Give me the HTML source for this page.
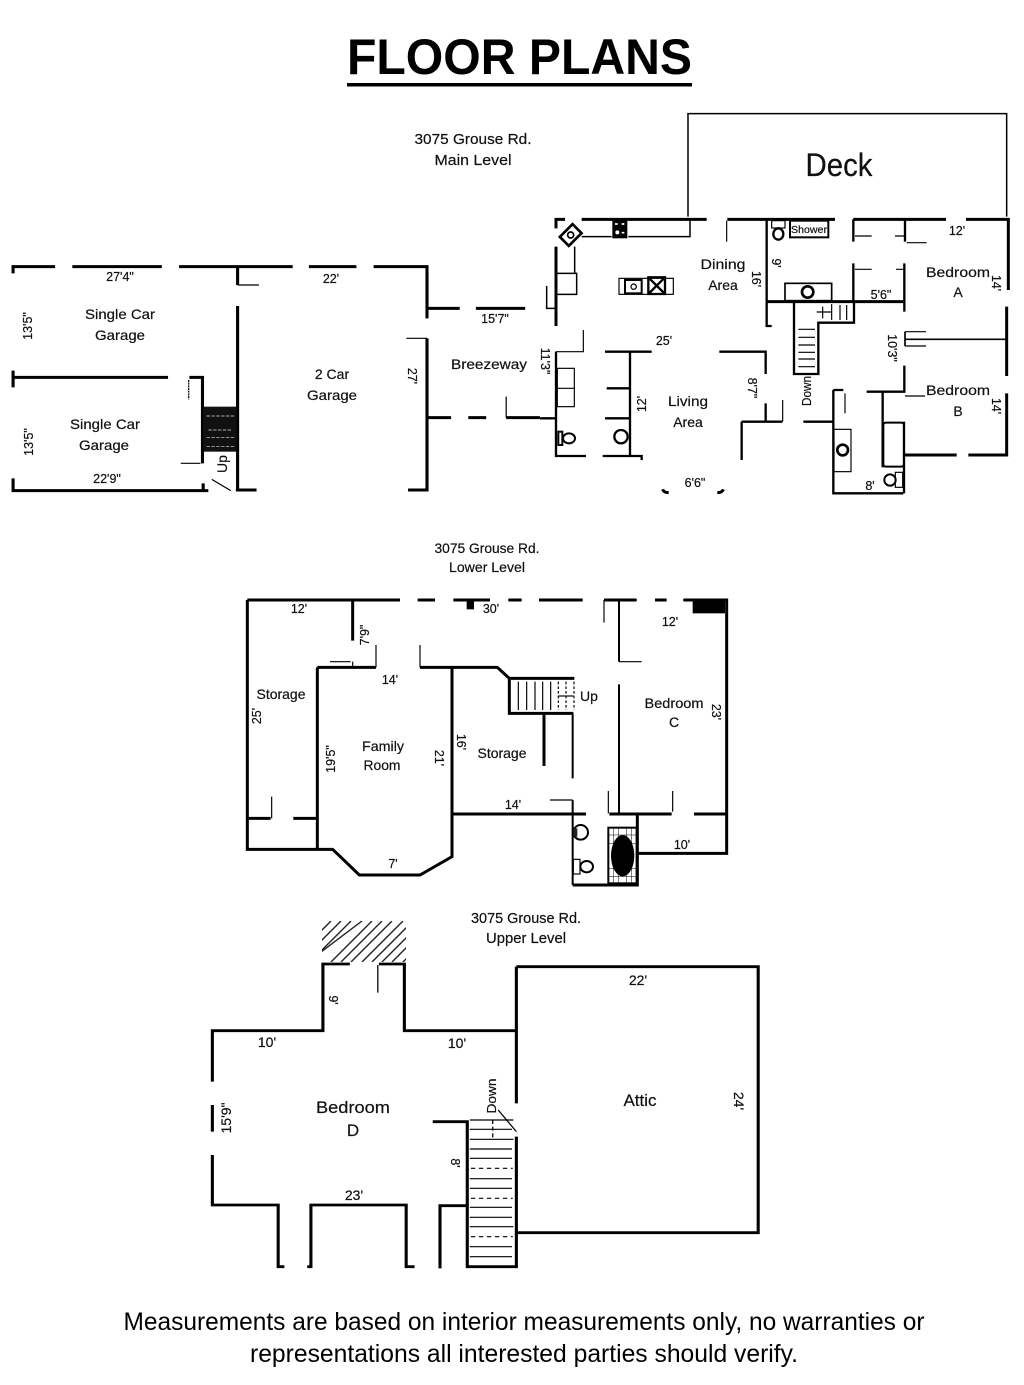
<!DOCTYPE html>
<html>
<head>
<meta charset="utf-8">
<title>Floor Plans</title>
<style>
html,body{margin:0;padding:0;background:#fff;}
svg{display:block;}
text{font-family:"Liberation Sans",sans-serif;fill:#111;stroke:#111;stroke-width:.2px;}
.w{fill:none;stroke:#000;stroke-width:9;stroke-linejoin:miter;}
.t{fill:none;stroke:#000;stroke-width:3.5;}
.k{fill:#000;stroke:none;}
.r{font-size:14px;}
.d{font-size:12.5px;}
.m{text-anchor:middle;}
</style>
</head>
<body>
<svg width="1024" height="1385" viewBox="0 0 1024 1385" xmlns="http://www.w3.org/2000/svg">
<rect width="1024" height="1385" fill="#fff"/>
<defs><clipPath id="hc"><rect x="322" y="921" width="84" height="41"/></clipPath></defs>

<!-- Title -->
<text x="519.5" y="74" class="m" font-size="50" font-weight="bold" style="fill:#000;stroke:none" textLength="345" lengthAdjust="spacingAndGlyphs">FLOOR PLANS</text>
<rect x="347" y="83" width="345" height="3.5" fill="#000"/>

<!-- MAIN LEVEL right (zoom1 coordinates) -->
<g transform="translate(540,100) scale(.33333)">
  <path class="t" style="stroke-width:4.5" d="M444,350V41H1400V350"/>
  <path class="w" d="M125,358H500M562,358H885M940,358H1218M1278,358H1405V570M1400,620V828M1400,880V1065H1285M1250,1065H1095"/>
  <path class="w" d="M75,358H48V385M48,440V678"/>
  <path class="t" style="stroke-width:4.5" d="M125,410H215M265,410H450V358M104,440V520M52,520H110V583H52M20,558V625H48"/>
  <rect x="217" y="360" width="45" height="55" fill="#000"/>
  <path d="M225,372h8M245,372h8M225,398h6M245,398h8" stroke="#fff" stroke-width="5"/>
  <circle cx="232" cy="397" r="8" fill="#fff" stroke="#000" stroke-width="4"/>
  <g transform="rotate(-45 92 405)"><rect x="65" y="386" width="54" height="38" fill="#fff" stroke="#000" stroke-width="8"/><circle cx="92" cy="405" r="9" fill="none" stroke="#000" stroke-width="5"/></g>
  <rect x="237" y="535" width="163" height="48" class="t"/>
  <rect x="255" y="540" width="50" height="40" fill="none" stroke="#000" stroke-width="6"/>
  <circle cx="281" cy="560" r="8" class="t"/>
  <path d="M325,532h50v50h-50zM325,532l50,50M375,532l-50,50" fill="none" stroke="#000" stroke-width="7"/>
  <path class="t" d="M560,362V425M945,408H995M1065,408H1095M945,508H995M1068,508H1095M1100,428H1160"/>
  <path class="w" style="stroke-width:7" d="M680,358V678H695M940,358V425M1095,362V425M940,490V605M1093,490V635"/>
  <path class="w" d="M680,605H1090"/>
  <ellipse cx="715" cy="402" rx="15" ry="17" fill="none" stroke="#000" stroke-width="7"/>
  <rect x="695" y="362" width="40" height="22" class="t"/>
  <rect x="750" y="362" width="115" height="50" fill="none" stroke="#000" stroke-width="6"/>
  <rect x="735" y="550" width="140" height="52" fill="none" stroke="#000" stroke-width="5"/>
  <circle cx="803" cy="576" r="17" fill="none" stroke="#000" stroke-width="8"/>
  <path class="w" style="stroke-width:7" d="M762,605V822H835V668H942V605"/>
  <path class="t" d="M775,688H825M775,712H825M775,735H825M775,757H825M775,777H825M775,800H825M900,615V660M920,615V660M875,612V660M848,620V655M830,636H875"/>
  <path class="t" d="M1095,695H1158M1095,738H1158"/>
  <path class="w" style="stroke-width:5" d="M1095,718H1400M1095,695V738"/>
  <path class="w" style="stroke-width:7" d="M1093,797V875H980M1028,875V1102M880,870V1180H1090M880,870H910M1092,965V1180M790,965H880"/>
  <path class="t" d="M1095,888H1155M915,880V940"/>
  <rect x="1030" y="968" width="62" height="132" fill="none" stroke="#000" stroke-width="6" rx="8"/>
  <rect x="882" y="988" width="51" height="127" class="t"/>
  <circle cx="908" cy="1050" r="16" fill="none" stroke="#000" stroke-width="8"/>
  <ellipse cx="1050" cy="1140" rx="17" ry="17" fill="none" stroke="#000" stroke-width="6"/>
  <rect x="1066" y="1117" width="22" height="45" class="t"/>
  <path class="t" d="M48,755H130V690"/>
  <path class="w" style="stroke-width:7" d="M195,755H335M270,755V1065M200,865H270M195,955H270M188,1068H305V1080M48,755V1068H138M0,955H48"/>
  <rect x="52" y="805" width="51" height="115" class="t"/>
  <path class="t" d="M52,865H103"/>
  <rect x="55" y="995" width="12" height="40" fill="none" stroke="#000" stroke-width="6"/>
  <ellipse cx="87" cy="1015" rx="18" ry="15" fill="none" stroke="#000" stroke-width="6"/>
  <circle cx="243" cy="1010" r="20" fill="none" stroke="#000" stroke-width="7"/>
  <path class="w" style="stroke-width:7" d="M538,755H677V822M677,910V965M605,965H727M605,965V1080"/>
  <path class="t" d="M728,900V965"/>
  <path class="w" d="M368,1168q3,10 18,10M550,1168q-3,10 -18,10"/>
</g>

<!-- MAIN LEVEL left (zoom2 coordinates) -->
<g transform="translate(0,250) scale(.34435,.33333)">
  <path class="w" d="M38,70V50H160M210,50H470M520,50H850M897,50H1035M1085,50H1240V205M690,50V105M690,168V720M1240,175H1335M1382,175H1525"/>
  <path class="t" d="M690,105H752M1180,265H1240M525,640H582M615,688L670,722M1470,440V503"/>
  <path class="w" d="M38,382H488M38,362V412M550,382H588V640M38,685V722H605M590,700V720M685,720H745M1240,265V720H1185M1240,503H1310M1360,503H1412M1470,503H1568"/>
  <path class="t" style="stroke-dasharray:6 2" d="M548,390V448"/>
  <rect x="590" y="470" width="96" height="135" fill="#111"/>
  <path d="M600,498H680M605,540H675M600,562H680M600,590H680" stroke="#ddd" stroke-width="2" stroke-dasharray="10 4" fill="none"/>
</g>

<!-- LOWER LEVEL (zoom3 coordinates) -->
<g transform="translate(240,590) scale(.33333)">
  <path class="w" d="M22,30H480M533,30H585M640,30H750M805,30H845M897,30H1028M1092,30H1190M1245,30H1280M1330,30H1460V790H1195"/>
  <path class="w" d="M22,30V778H278L358,855H540L636,800V235M338,30V152M232,232V778M232,232H408M540,232H772L808,265H1003M808,265V370H1000M912,370V528"/>
  <path class="w" style="stroke-width:6" d="M998,370V565M998,630V885M1137,30V215M1137,283V672"/>
  <path class="w" d="M636,672H1038M1108,672H1295M1362,672H1460M1192,672V885H998M22,685H92M160,685H232"/>
  <path class="t" d="M408,232V165M540,232V165M270,215H332M338,215V232M930,630H998M1105,603V670M1298,603V665M1137,215H1205M1092,30V98M95,620V685"/>
  <rect x="1358" y="30" width="97" height="40" fill="#000"/>
  <rect x="680" y="30" width="22" height="28" fill="#000"/>
  <path class="t" d="M835,275V360M860,275V360M885,275V360M908,275V360M932,275V360"/>
  <path class="t" style="stroke-dasharray:8 6" d="M955,275V360M978,275V360M1002,275V360"/>
  <path class="t" d="M955,318H1000"/>
  <rect x="1105" y="713" width="85" height="167" fill="none" stroke="#000" stroke-width="6"/>
  <path stroke="#000" stroke-width="1.5" fill="none" d="M1120,713V880M1135,713V880M1160,713V880M1175,713V880M1105,735H1190M1105,760H1190M1105,835H1190M1105,860H1190"/>
  <ellipse cx="1148" cy="797" rx="35" ry="62" fill="#000"/>
  <circle cx="1022" cy="727" r="22" fill="none" stroke="#000" stroke-width="6"/>
  <rect x="1000" y="715" width="12" height="25" fill="#222"/>
  <rect x="1000" y="808" width="20" height="44" class="t"/>
  <ellipse cx="1040" cy="830" rx="19" ry="17" fill="none" stroke="#000" stroke-width="6"/>
</g>

<!-- Chimney hatch (native coordinates) -->
<g clip-path="url(#hc)" stroke="#222" stroke-width="1.4" fill="none">
  <path d="M310,942L331,921M320,952L351,921M331,962L372,921M341,962L382,921M351,962L392,921M362,962L403,921M372,962L413,921M382,962L423,921M392,962L433,921M403,962L444,921M321,941L341,921M321,952L362,921"/>
</g>

<!-- UPPER LEVEL (zoom4 coordinates) -->
<g transform="translate(200,910) scale(.36364,.33333)">
  <path class="w" style="stroke-width:8.5" d="M34,515V362H338V162H412M492,162H562V362H870M870,170H1535V968H870M870,170V580M34,585V665M34,735V885H215V1070H232M295,1070H305V885H567V1070H590M640,635H735V1070H870V680M660,1075V887H735"/>
  <path class="t" d="M489,165V248M820,600L870,665"/>
  <path class="t" d="M742,630H862M742,658H858M742,688H862M742,717H858M742,745H858M742,806H858M742,835H858M742,892H858M742,922H858M742,950H862M742,1010H858M742,1040H858"/>
  <path class="t" style="stroke-dasharray:12 10" d="M745,775H860M745,865H860M745,980H860"/>
  <path class="t" style="stroke-dasharray:12 8" d="M805,630V690"/>
</g>

<!-- Main level text -->
<text x="473" y="144" class="m" font-size="15" textLength="117" lengthAdjust="spacingAndGlyphs">3075 Grouse Rd.</text>
<text x="473" y="165" class="m" font-size="15" textLength="77" lengthAdjust="spacingAndGlyphs">Main Level</text>
<text x="839" y="176" class="m" font-size="32" textLength="67" lengthAdjust="spacingAndGlyphs">Deck</text>
<text x="120" y="281" class="m d">27'4"</text>
<text x="331" y="283" class="m d">22'</text>
<text x="120" y="319" class="m r" textLength="70" lengthAdjust="spacingAndGlyphs">Single Car</text>
<text x="120" y="340" class="m r" textLength="50" lengthAdjust="spacingAndGlyphs">Garage</text>
<text transform="translate(32,326) rotate(-90)" class="m d">13'5"</text>
<text x="105" y="429" class="m r" textLength="70" lengthAdjust="spacingAndGlyphs">Single Car</text>
<text x="104" y="450" class="m r" textLength="50" lengthAdjust="spacingAndGlyphs">Garage</text>
<text transform="translate(33,442) rotate(-90)" class="m d">13'5"</text>
<text x="107" y="483" class="m d">22'9"</text>
<text transform="translate(227,464) rotate(-90)" class="m r">Up</text>
<text x="332" y="379" class="m r">2 Car</text>
<text x="332" y="400" class="m r" textLength="50" lengthAdjust="spacingAndGlyphs">Garage</text>
<text transform="translate(408,376) rotate(90)" class="m d">27'</text>
<text x="495" y="323" class="m d">15'7"</text>
<text x="489" y="369" class="m r" textLength="76" lengthAdjust="spacingAndGlyphs">Breezeway</text>
<text transform="translate(541,361) rotate(90)" class="m d">11'3"</text>
<text x="723" y="269" class="m r" textLength="45" lengthAdjust="spacingAndGlyphs">Dining</text>
<text x="723" y="290" class="m r">Area</text>
<text transform="translate(752,279) rotate(90)" class="m d">16'</text>
<text transform="translate(772,263) rotate(90)" class="m d">9'</text>
<text x="809" y="233" class="m" font-size="10" textLength="36" lengthAdjust="spacingAndGlyphs">Shower</text>
<text x="957" y="235" class="m d">12'</text>
<text x="958" y="277" class="m r" textLength="64" lengthAdjust="spacingAndGlyphs">Bedroom</text>
<text x="958" y="297" class="m r">A</text>
<text transform="translate(992,283) rotate(90)" class="m d">14'</text>
<text x="881" y="299" class="m d">5'6"</text>
<text x="664" y="345" class="m d">25'</text>
<text transform="translate(888,348) rotate(90)" class="m d">10'3"</text>
<text transform="translate(748,388) rotate(90)" class="m d">8'7"</text>
<text transform="translate(811,391) rotate(-90)" class="m d" textLength="30" lengthAdjust="spacingAndGlyphs">Down</text>
<text transform="translate(646,404) rotate(-90)" class="m d">12'</text>
<text x="688" y="406" class="m r" textLength="40" lengthAdjust="spacingAndGlyphs">Living</text>
<text x="688" y="427" class="m r">Area</text>
<text x="958" y="395" class="m r" textLength="64" lengthAdjust="spacingAndGlyphs">Bedroom</text>
<text x="958" y="416" class="m r">B</text>
<text transform="translate(992,406) rotate(90)" class="m d">14'</text>
<text x="695" y="487" class="m d">6'6"</text>
<text x="870" y="490" class="m d">8'</text>

<!-- Lower level text -->
<text x="487" y="553" class="m" font-size="14" textLength="105" lengthAdjust="spacingAndGlyphs">3075 Grouse Rd.</text>
<text x="487" y="572" class="m" font-size="14" textLength="76" lengthAdjust="spacingAndGlyphs">Lower Level</text>
<text x="299" y="613" class="m d">12'</text>
<text x="491" y="613" class="m d">30'</text>
<text transform="translate(369,635) rotate(-90)" class="m d">7'9"</text>
<text x="670" y="626" class="m d">12'</text>
<text x="390" y="684" class="m d">14'</text>
<text x="281" y="699" class="m r" textLength="49" lengthAdjust="spacingAndGlyphs">Storage</text>
<text transform="translate(261,716) rotate(-90)" class="m d">25'</text>
<text x="589" y="701" class="m r">Up</text>
<text x="674" y="708" class="m r" textLength="59" lengthAdjust="spacingAndGlyphs">Bedroom</text>
<text x="674" y="727" class="m r">C</text>
<text transform="translate(712,712) rotate(90)" class="m d">23'</text>
<text x="383" y="751" class="m r" textLength="42" lengthAdjust="spacingAndGlyphs">Family</text>
<text x="382" y="770" class="m r" textLength="37" lengthAdjust="spacingAndGlyphs">Room</text>
<text transform="translate(335,759) rotate(-90)" class="m d">19'5"</text>
<text transform="translate(435,758) rotate(90)" class="m d">21'</text>
<text transform="translate(457,742) rotate(90)" class="m d">16'</text>
<text x="502" y="758" class="m r" textLength="49" lengthAdjust="spacingAndGlyphs">Storage</text>
<text x="513" y="809" class="m d">14'</text>
<text x="682" y="849" class="m d">10'</text>
<text x="393" y="868" class="m d">7'</text>

<!-- Upper level text -->
<text x="526" y="923" class="m" font-size="14.5" textLength="110" lengthAdjust="spacingAndGlyphs">3075 Grouse Rd.</text>
<text x="526" y="943" class="m" font-size="14.5" textLength="80" lengthAdjust="spacingAndGlyphs">Upper Level</text>
<text transform="translate(329,1000) rotate(90)" class="m d">9'</text>
<text x="267" y="1047" class="m" font-size="14">10'</text>
<text x="457" y="1048" class="m" font-size="14">10'</text>
<text x="638" y="985" class="m" font-size="14">22'</text>
<text x="353" y="1113" class="m" font-size="17" textLength="74" lengthAdjust="spacingAndGlyphs">Bedroom</text>
<text x="353" y="1136" class="m" font-size="17">D</text>
<text transform="translate(231,1118) rotate(-90)" class="m" font-size="14">15'9"</text>
<text x="640" y="1106" class="m" font-size="17">Attic</text>
<text transform="translate(734,1101) rotate(90)" class="m" font-size="14">24'</text>
<text transform="translate(496,1096) rotate(-90)" class="m d" textLength="35" lengthAdjust="spacingAndGlyphs">Down</text>
<text transform="translate(451,1163) rotate(90)" class="m d">8'</text>
<text x="354" y="1200" class="m" font-size="14">23'</text>

<!-- Footer -->
<text x="524" y="1330" class="m" font-size="25" style="fill:#000;stroke:none" textLength="801" lengthAdjust="spacingAndGlyphs">Measurements are based on interior measurements only, no warranties or</text>
<text x="524" y="1362" class="m" font-size="25" style="fill:#000;stroke:none" textLength="548" lengthAdjust="spacingAndGlyphs">representations all interested parties should verify.</text>
</svg>
</body>
</html>
